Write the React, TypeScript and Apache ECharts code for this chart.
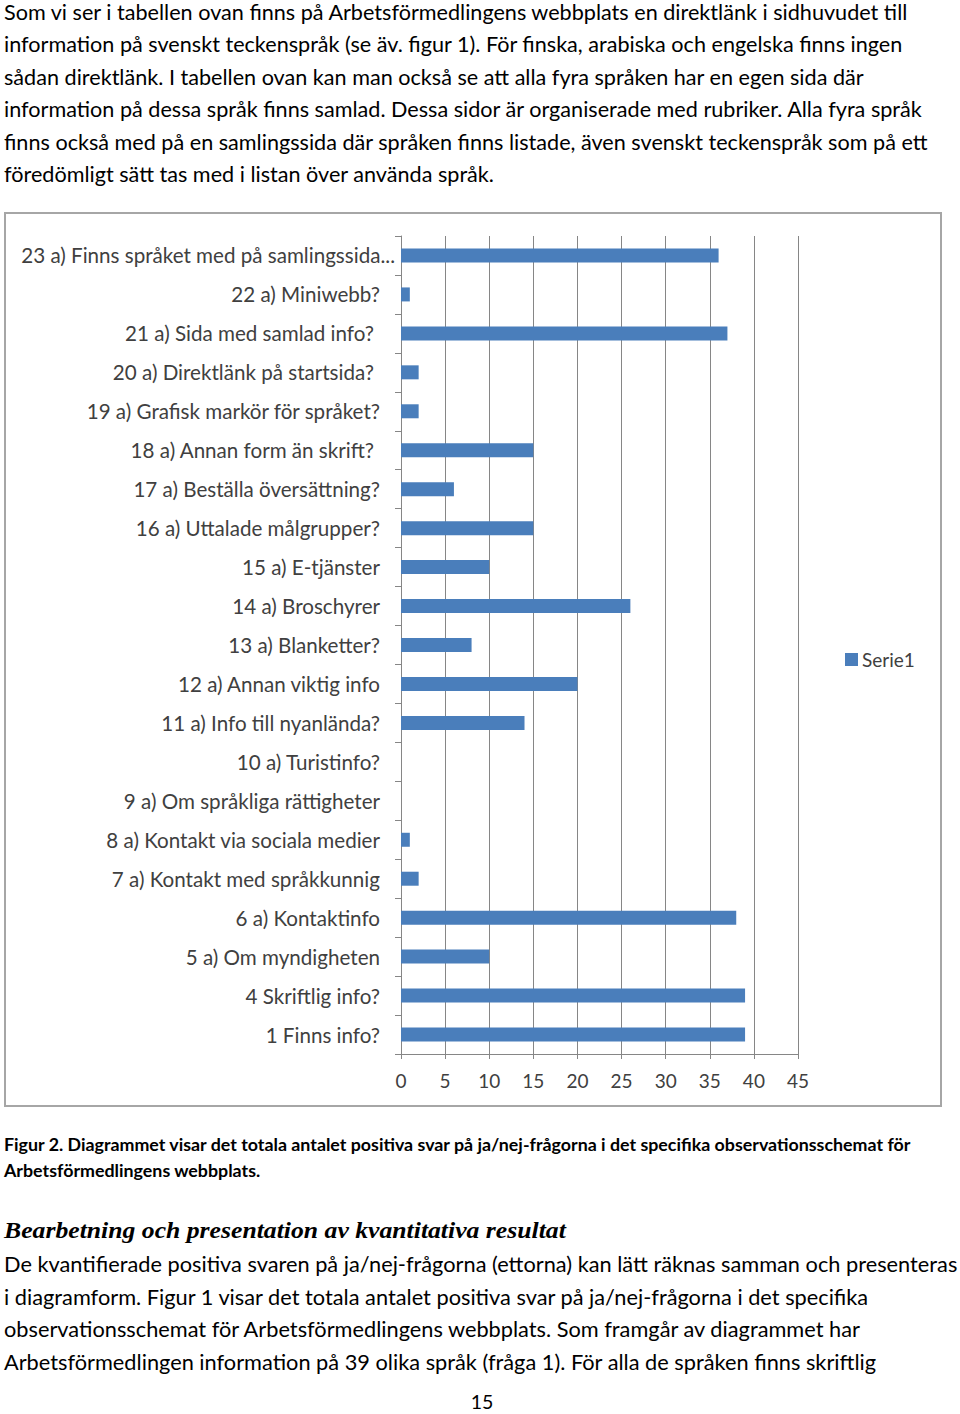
import React, { useEffect, useRef } from 'react';
import * as echarts from 'echarts';

const categories = [
  '23 a) Finns språket med på samlingssida...',
  '22 a) Miniwebb?',
  '21 a) Sida med samlad info?',
  '20 a) Direktlänk på startsida?',
  '19 a) Grafisk markör för språket?',
  '18 a) Annan form än skrift?',
  '17 a) Beställa översättning?',
  '16 a) Uttalade målgrupper?',
  '15 a) E-tjänster',
  '14 a) Broschyrer',
  '13 a) Blanketter?',
  '12 a) Annan viktig info',
  '11 a) Info till nyanlända?',
  '10 a) Turistinfo?',
  '9 a) Om språkliga rättigheter',
  '8 a) Kontakt via sociala medier',
  '7 a) Kontakt med språkkunnig',
  '6 a) Kontaktinfo',
  '5 a) Om myndigheten',
  '4 Skriftlig info?',
  '1 Finns info?',
];
const serie1 = [36, 1, 37, 2, 2, 15, 6, 15, 10, 26, 8, 20, 14, 0, 0, 1, 2, 38, 10, 39, 39];
const seriesName = 'Serie1';
const spacedLabels = ['21 a) Sida med samlad info?', '20 a) Direktlänk på startsida?', '18 a) Annan form än skrift?'];
const longLabel = categories[0];

const para1 = [
  'Som vi ser i tabellen ovan finns på Arbetsförmedlingens webbplats en direktlänk i sidhuvudet till',
  'information på svenskt teckenspråk (se äv. figur 1). För finska, arabiska och engelska finns ingen',
  'sådan direktlänk. I tabellen ovan kan man också se att alla fyra språken har en egen sida där',
  'information på dessa språk finns samlad. Dessa sidor är organiserade med rubriker. Alla fyra språk',
  'finns också med på en samlingssida där språken finns listade, även svenskt teckenspråk som på ett',
  'föredömligt sätt tas med i listan över använda språk.',
];
const caption = [
  'Figur 2. Diagrammet visar det totala antalet positiva svar på ja/nej-frågorna i det specifika observationsschemat för',
  'Arbetsförmedlingens webbplats.',
];
const heading = 'Bearbetning och presentation av kvantitativa resultat';
const para2 = [
  'De kvantifierade positiva svaren på ja/nej-frågorna (ettorna) kan lätt räknas samman och presenteras',
  'i diagramform. Figur 1 visar det totala antalet positiva svar på ja/nej-frågorna i det specifika',
  'observationsschemat för Arbetsförmedlingens webbplats. Som framgår av diagrammet har',
  'Arbetsförmedlingen information på 39 olika språk (fråga 1). För alla de språken finns skriftlig',
];
const pageNumber = '15';

function fitScale(text: string, font: string, target: number): number {
  const c = document.createElement('canvas');
  const ctx = c.getContext('2d');
  if (!ctx) return 1;
  ctx.font = font;
  const w = ctx.measureText(text).width;
  return w > 0 ? target / w : 1;
}

export default function App() {
  const ref = useRef<HTMLDivElement>(null);
  useEffect(() => {
    if (!ref.current) return;
    const chart = echarts.init(ref.current, null, { renderer: 'svg' });

    const bodyFont = 'Lato';
    const bodySize = 21;
    const bodyScale = fitScale(para1[0], `${bodySize}px ${bodyFont}`, 906);
    const body2Scale = fitScale(para2[0], `${bodySize}px ${bodyFont}`, 954);
    const capSize = 17;
    const capScale = fitScale(caption[0], `bold ${capSize}px ${bodyFont}`, 909);
    const headSize = 24;
    const headFont = 'Liberation Serif';
    const headScale = fitScale(heading, `italic bold ${headSize}px "${headFont}"`, 562);

    const graphics: any[] = [];
    const addLines = (lines: string[], ys: number[], size: number, scale: number, weight = 'normal') => {
      lines.forEach((t, i) => {
        graphics.push({
          type: 'text',
          x: 4,
          y: ys[i],
          scaleX: scale,
          style: {
            text: t,
            fontFamily: bodyFont,
            fontSize: size,
            fontWeight: weight,
            fill: '#000',
            align: 'left',
            verticalAlign: 'middle',
          },
        });
      });
    };
    addLines(para1, [12, 44, 77, 109, 142, 174], bodySize, bodyScale);
    addLines(caption, [1145, 1171], capSize, capScale, 'bold');
    addLines(para2, [1264, 1297, 1329, 1362], bodySize, body2Scale);
    graphics.push({
      type: 'text',
      x: 4,
      y: 1230,
      scaleX: headScale,
      style: {
        text: heading,
        fontFamily: headFont,
        fontSize: headSize,
        fontWeight: 'bold',
        fontStyle: 'italic',
        fill: '#000',
        align: 'left',
        verticalAlign: 'middle',
      },
    });
    graphics.push({
      type: 'text',
      x: 482,
      y: 1402,
      scaleX: bodyScale,
      style: {
        text: pageNumber,
        fontFamily: bodyFont,
        fontSize: 19,
        fill: '#000',
        align: 'center',
        verticalAlign: 'middle',
      },
    });
    graphics.push({
      type: 'rect',
      shape: { x: 5, y: 213, width: 936, height: 893 },
      style: { fill: 'none', stroke: '#a6a6a6', lineWidth: 2 },
      z: -1,
    });

    const labelStyle = { fontFamily: 'Lato', fontSize: 20.6, color: '#404040' };
    const tickStyle = { fontFamily: 'Lato', fontSize: 19, color: '#404040' };

    chart.setOption({
      animation: false,
      backgroundColor: '#fff',
      graphic: graphics,
      grid: { left: 401, top: 236, width: 397, height: 818 },
      legend: {
        data: [seriesName],
        left: 845,
        top: 650,
        padding: 0,
        orient: 'vertical',
        icon: 'rect',
        itemWidth: 13,
        itemHeight: 13,
        itemGap: 4,
        textStyle: { ...labelStyle, fontSize: 19, padding: [0, 0, 0, -1] },
      },
      xAxis: {
        type: 'value',
        min: 0,
        max: 45,
        interval: 5,
        axisLine: { show: true, lineStyle: { color: '#868686', width: 1 } },
        axisTick: { show: true, length: 5, lineStyle: { color: '#868686' } },
        axisLabel: { ...tickStyle, margin: 17 },
        splitLine: { show: true, lineStyle: { color: '#868686', width: 1 } },
      },
      yAxis: {
        type: 'category',
        data: categories,
        inverse: true,
        axisLine: { show: true, lineStyle: { color: '#868686', width: 1 } },
        axisTick: { show: true, length: 6, lineStyle: { color: '#868686' } },
        splitLine: { show: false },
        axisLabel: {
          interval: 0,
          margin: 6,
          ...labelStyle,
          formatter: (v: string) => {
            if (v === longLabel) return `{l|${v}}`;
            if (spacedLabels.includes(v)) return `{s|${v}}`;
            return `{n|${v}}`;
          },
          rich: {
            l: { ...labelStyle },
            n: { ...labelStyle, padding: [0, 15, 0, 0] },
            s: { ...labelStyle, padding: [0, 21, 0, 0] },
          },
        },
      },
      series: [
        {
          name: seriesName,
          type: 'bar',
          data: serie1,
          barWidth: 14,
          itemStyle: { color: '#4a7ebb' },
        },
      ],
    });
    return () => chart.dispose();
  }, []);
  return (
    <div
      ref={ref}
      style={{ position: 'absolute', left: 0, top: 0, width: 960, height: 1414, background: '#fff' }}
    />
  );
}
